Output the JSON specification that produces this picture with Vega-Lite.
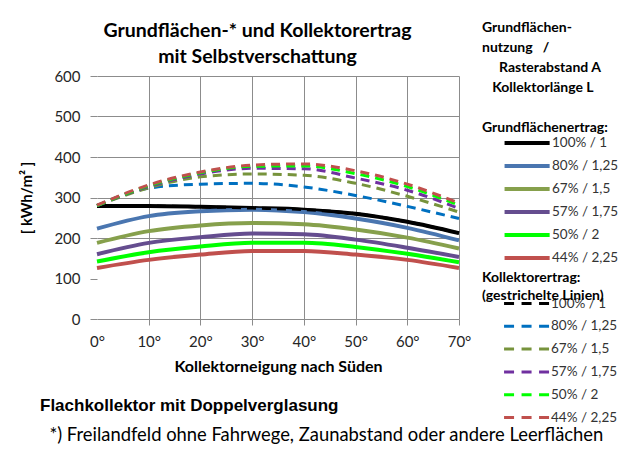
{
  "$schema": "https://vega.github.io/schema/vega-lite/v6.json",
  "width": 362,
  "height": 243,
  "autosize": {"type": "none"},
  "padding": {"left": 97, "top": 76, "right": 170, "bottom": 131},
  "background": "white",
  "title": {
    "text": "Flachkollektor mit Doppelverglasung",
    "subtitle": "\u200b\u00a0\u00a0*) Freilandfeld ohne Fahrwege, Zaunabstand oder andere Leerflächen",
    "orient": "bottom",
    "anchor": "start",
    "frame": "group",
    "dx": -57,
    "offset": -26,
    "font": "Liberation Sans",
    "fontSize": 17,
    "fontWeight": "bold",
    "color": "black",
    "subtitleFont": "Lato",
    "subtitleFontSize": 18.4,
    "subtitleColor": "black",
    "subtitlePadding": 11
  },
  "data": {
    "values": [
      {"w": 0, "s": "100% / 1", "t": "G", "v": 279}, {"w": 10, "s": "100% / 1", "t": "G", "v": 279}, {"w": 20, "s": "100% / 1", "t": "G", "v": 277}, {"w": 30, "s": "100% / 1", "t": "G", "v": 274}, {"w": 40, "s": "100% / 1", "t": "G", "v": 270}, {"w": 50, "s": "100% / 1", "t": "G", "v": 260}, {"w": 60, "s": "100% / 1", "t": "G", "v": 240}, {"w": 70, "s": "100% / 1", "t": "G", "v": 212},
      {"w": 0, "s": "80% / 1,25", "t": "G", "v": 223}, {"w": 10, "s": "80% / 1,25", "t": "G", "v": 254}, {"w": 20, "s": "80% / 1,25", "t": "G", "v": 266}, {"w": 30, "s": "80% / 1,25", "t": "G", "v": 270}, {"w": 40, "s": "80% / 1,25", "t": "G", "v": 264}, {"w": 50, "s": "80% / 1,25", "t": "G", "v": 248}, {"w": 60, "s": "80% / 1,25", "t": "G", "v": 225}, {"w": 70, "s": "80% / 1,25", "t": "G", "v": 194},
      {"w": 0, "s": "67% / 1,5", "t": "G", "v": 188}, {"w": 10, "s": "67% / 1,5", "t": "G", "v": 217}, {"w": 20, "s": "67% / 1,5", "t": "G", "v": 231}, {"w": 30, "s": "67% / 1,5", "t": "G", "v": 237}, {"w": 40, "s": "67% / 1,5", "t": "G", "v": 234}, {"w": 50, "s": "67% / 1,5", "t": "G", "v": 221}, {"w": 60, "s": "67% / 1,5", "t": "G", "v": 201}, {"w": 70, "s": "67% / 1,5", "t": "G", "v": 174},
      {"w": 0, "s": "57% / 1,75", "t": "G", "v": 160}, {"w": 10, "s": "57% / 1,75", "t": "G", "v": 188}, {"w": 20, "s": "57% / 1,75", "t": "G", "v": 202}, {"w": 30, "s": "57% / 1,75", "t": "G", "v": 211}, {"w": 40, "s": "57% / 1,75", "t": "G", "v": 209}, {"w": 50, "s": "57% / 1,75", "t": "G", "v": 196}, {"w": 60, "s": "57% / 1,75", "t": "G", "v": 176}, {"w": 70, "s": "57% / 1,75", "t": "G", "v": 153},
      {"w": 0, "s": "50% / 2", "t": "G", "v": 142}, {"w": 10, "s": "50% / 2", "t": "G", "v": 165}, {"w": 20, "s": "50% / 2", "t": "G", "v": 179}, {"w": 30, "s": "50% / 2", "t": "G", "v": 188}, {"w": 40, "s": "50% / 2", "t": "G", "v": 188}, {"w": 50, "s": "50% / 2", "t": "G", "v": 178}, {"w": 60, "s": "50% / 2", "t": "G", "v": 161}, {"w": 70, "s": "50% / 2", "t": "G", "v": 140},
      {"w": 0, "s": "44% / 2,25", "t": "G", "v": 126}, {"w": 10, "s": "44% / 2,25", "t": "G", "v": 146}, {"w": 20, "s": "44% / 2,25", "t": "G", "v": 159}, {"w": 30, "s": "44% / 2,25", "t": "G", "v": 168}, {"w": 40, "s": "44% / 2,25", "t": "G", "v": 168}, {"w": 50, "s": "44% / 2,25", "t": "G", "v": 159}, {"w": 60, "s": "44% / 2,25", "t": "G", "v": 146}, {"w": 70, "s": "44% / 2,25", "t": "G", "v": 126},
      {"w": 0, "s": "100% / 1", "t": "K", "v": 279}, {"w": 10, "s": "100% / 1", "t": "K", "v": 279}, {"w": 20, "s": "100% / 1", "t": "K", "v": 277}, {"w": 30, "s": "100% / 1", "t": "K", "v": 274}, {"w": 40, "s": "100% / 1", "t": "K", "v": 270}, {"w": 50, "s": "100% / 1", "t": "K", "v": 260}, {"w": 60, "s": "100% / 1", "t": "K", "v": 240}, {"w": 70, "s": "100% / 1", "t": "K", "v": 212},
      {"w": 0, "s": "80% / 1,25", "t": "K", "v": 280}, {"w": 10, "s": "80% / 1,25", "t": "K", "v": 323}, {"w": 20, "s": "80% / 1,25", "t": "K", "v": 333}, {"w": 30, "s": "80% / 1,25", "t": "K", "v": 335}, {"w": 40, "s": "80% / 1,25", "t": "K", "v": 326}, {"w": 50, "s": "80% / 1,25", "t": "K", "v": 305}, {"w": 60, "s": "80% / 1,25", "t": "K", "v": 278}, {"w": 70, "s": "80% / 1,25", "t": "K", "v": 248},
      {"w": 0, "s": "67% / 1,5", "t": "K", "v": 280}, {"w": 10, "s": "67% / 1,5", "t": "K", "v": 324}, {"w": 20, "s": "67% / 1,5", "t": "K", "v": 351}, {"w": 30, "s": "67% / 1,5", "t": "K", "v": 358}, {"w": 40, "s": "67% / 1,5", "t": "K", "v": 355}, {"w": 50, "s": "67% / 1,5", "t": "K", "v": 335}, {"w": 60, "s": "67% / 1,5", "t": "K", "v": 303}, {"w": 70, "s": "67% / 1,5", "t": "K", "v": 264},
      {"w": 0, "s": "57% / 1,75", "t": "K", "v": 280}, {"w": 10, "s": "57% / 1,75", "t": "K", "v": 327}, {"w": 20, "s": "57% / 1,75", "t": "K", "v": 358}, {"w": 30, "s": "57% / 1,75", "t": "K", "v": 372}, {"w": 40, "s": "57% / 1,75", "t": "K", "v": 371}, {"w": 50, "s": "57% / 1,75", "t": "K", "v": 348}, {"w": 60, "s": "57% / 1,75", "t": "K", "v": 318}, {"w": 70, "s": "57% / 1,75", "t": "K", "v": 273},
      {"w": 0, "s": "50% / 2", "t": "K", "v": 280}, {"w": 10, "s": "50% / 2", "t": "K", "v": 329}, {"w": 20, "s": "50% / 2", "t": "K", "v": 361}, {"w": 30, "s": "50% / 2", "t": "K", "v": 377}, {"w": 40, "s": "50% / 2", "t": "K", "v": 378}, {"w": 50, "s": "50% / 2", "t": "K", "v": 359}, {"w": 60, "s": "50% / 2", "t": "K", "v": 327}, {"w": 70, "s": "50% / 2", "t": "K", "v": 281},
      {"w": 0, "s": "44% / 2,25", "t": "K", "v": 281}, {"w": 10, "s": "44% / 2,25", "t": "K", "v": 331}, {"w": 20, "s": "44% / 2,25", "t": "K", "v": 363}, {"w": 30, "s": "44% / 2,25", "t": "K", "v": 380}, {"w": 40, "s": "44% / 2,25", "t": "K", "v": 383}, {"w": 50, "s": "44% / 2,25", "t": "K", "v": 366}, {"w": 60, "s": "44% / 2,25", "t": "K", "v": 333}, {"w": 70, "s": "44% / 2,25", "t": "K", "v": 286}
    ]
  },
  "layer": [
    {
      "transform": [{"filter": "datum.t === 'G'"}],
      "mark": {"type": "line", "strokeWidth": 4, "interpolate": "monotone"},
      "encoding": {
        "x": {
          "field": "w", "type": "quantitative",
          "scale": {"domain": [0, 70], "nice": false, "zero": false},
          "axis": {
            "values": [0, 10, 20, 30, 40, 50, 60, 70],
            "labelExpr": "datum.value + '°'",
            "labelFlush": false,
            "grid": true,
            "gridColor": {"condition": {"test": "datum.value === 0", "value": "transparent"}, "value": "#8c8c8c"},
            "domain": false,
            "tickSize": 6,
            "tickColor": {"condition": {"test": "datum.value === 0", "value": "transparent"}, "value": "#8c8c8c"},
            "labelFontSize": 15,
            "labelColor": "#262626",
            "labelPadding": 9,
            "title": "Kollektorneigung nach Süden",
            "titleFontSize": 16,
            "titleFontWeight": "bold",
            "titleColor": "black",
            "titlePadding": 9
          }
        },
        "y": {
          "field": "v", "type": "quantitative",
          "scale": {"domain": [0, 600], "nice": false},
          "axis": {
            "values": [0, 100, 200, 300, 400, 500, 600],
            "labelFlush": false,
            "grid": true,
            "gridColor": {"condition": {"test": "datum.value === 100", "value": "transparent"}, "value": "#8c8c8c"},
            "domain": false,
            "tickSize": 7,
            "tickColor": "#8c8c8c",
            "labelFontSize": 15,
            "labelColor": "#262626",
            "labelPadding": 10,
            "title": "[ kWh/m² ]",
            "titleFontSize": 15,
            "titleFontWeight": "bold",
            "titleColor": "black",
            "titlePadding": 19
          }
        },
        "color": {
          "field": "s", "type": "nominal",
          "scale": {
            "domain": ["100% / 1", "80% / 1,25", "67% / 1,5", "57% / 1,75", "50% / 2", "44% / 2,25"],
            "range": ["#000000", "#4a76b0", "#86a04c", "#654d8f", "#00ff00", "#c0504d"]
          },
          "legend": {
            "orient": "none",
            "legendX": 385,
            "legendY": -55,
            "padding": 0,
            "title": ["Grundflächen-", "nutzung\u00a0\u00a0\u00a0/", "\u200b\u00a0\u00a0\u00a0\u00a0\u00a0Rasterabstand A", "\u200b\u00a0\u00a0\u00a0Kollektorlänge L", "\u200b", "Grundflächenertrag:"],
            "titleFontSize": 14,
            "titleFontWeight": "bold",
            "titleColor": "black",
            "titleLineHeight": 20,
            "titlePadding": 0,
            "symbolType": "M-7,0H1",
            "symbolSize": 127,
            "symbolStrokeWidth": 4,
            "symbolOffset": 54,
            "labelOffset": 0,
            "labelFontSize": 13.5,
            "labelColor": "#333333",
            "rowPadding": 7
          }
        }
      }
    },
    {
      "transform": [{"filter": "datum.t === 'K'"}],
      "mark": {"type": "line", "strokeWidth": 3, "strokeDash": [9, 6], "interpolate": "monotone"},
      "encoding": {
        "x": {
          "field": "w", "type": "quantitative",
          "axis": {
            "orient": "top",
            "labels": false,
            "ticks": false,
            "domain": false,
            "grid": false,
            "title": ["Grundflächen-* und Kollektorertrag", "mit Selbstverschattung"],
            "titleFontSize": 19.5,
            "titleFontWeight": "bold",
            "titleColor": "black",
            "titleX": 160,
            "titleY": -55,
            "titleAlign": "center",
            "titleBaseline": "top",
            "titleLineHeight": 26
          }
        },
        "y": {"field": "v", "type": "quantitative"},
        "color": {
          "field": "s", "type": "nominal",
          "scale": {
            "domain": ["100% / 1", "80% / 1,25", "67% / 1,5", "57% / 1,75", "50% / 2", "44% / 2,25"],
            "range": ["#000000", "#0070c0", "#77933c", "#7030a0", "#00ff00", "#c0504d"]
          },
          "legend": {
            "orient": "none",
            "legendX": 385,
            "legendY": 195,
            "padding": 0,
            "title": ["Kollektorertrag:", "(gestrichelte Linien)"],
            "titleFontSize": 14,
            "titleFontWeight": "bold",
            "titleColor": "black",
            "titleLineHeight": 18,
            "titlePadding": -7,
            "symbolType": "M-7,0H1",
            "symbolSize": 127,
            "symbolStrokeWidth": 3,
            "symbolDash": [10, 7.5],
            "symbolOffset": 54,
            "labelOffset": 0,
            "labelFontSize": 13.5,
            "labelColor": "#333333",
            "rowPadding": 8.8
          }
        }
      }
    }
  ],
  "resolve": {"scale": {"color": "independent"}, "axis": {"x": "independent"}},
  "config": {"view": {"stroke": null}, "font": "Lato"}
}
